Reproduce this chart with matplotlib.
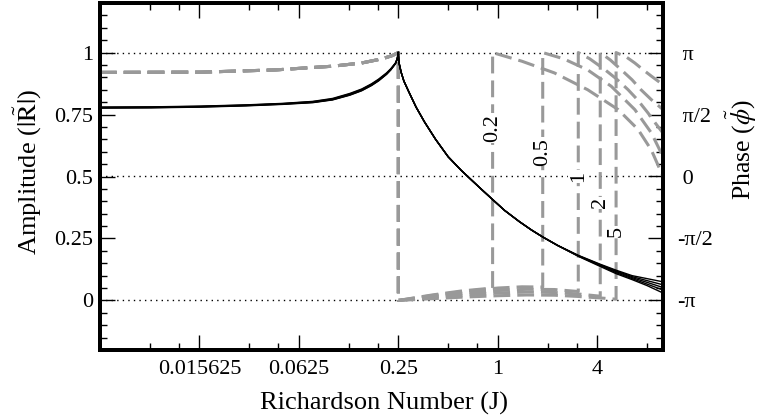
import numpy as np
import matplotlib
matplotlib.use('Agg')
import matplotlib.pyplot as plt
from matplotlib.ticker import FixedLocator, FixedFormatter, MultipleLocator, NullFormatter

plt.rcParams['font.family'] = ['Liberation Serif', 'DejaVu Serif']
plt.rcParams['mathtext.fontset'] = 'stix'

# ---------------- data ----------------
params = ['0.2', '0.5', '1', '2', '5']

# amplitude, J < 0.25 (one array per parameter)
J_amp_left = [0.0039, 0.008, 0.016, 0.03, 0.05, 0.076, 0.1, 0.127, 0.15, 0.172, 0.19, 0.212, 0.225, 0.24, 0.246, 0.25]
amp_left_02 = [0.780, 0.781, 0.784, 0.789, 0.795, 0.803, 0.815, 0.835, 0.853, 0.874, 0.893, 0.918, 0.935, 0.958, 0.975, 1.0]
amp_left_05 = [0.779, 0.780, 0.783, 0.788, 0.794, 0.802, 0.813, 0.833, 0.851, 0.872, 0.891, 0.916, 0.933, 0.957, 0.974, 1.0]
amp_left_1 = [0.778, 0.779, 0.782, 0.787, 0.793, 0.800, 0.811, 0.831, 0.849, 0.870, 0.889, 0.914, 0.932, 0.956, 0.974, 1.0]
amp_left_2 = [0.777, 0.778, 0.781, 0.786, 0.792, 0.799, 0.810, 0.829, 0.847, 0.868, 0.887, 0.913, 0.931, 0.955, 0.973, 1.0]
amp_left_5 = [0.776, 0.777, 0.780, 0.785, 0.791, 0.798, 0.809, 0.828, 0.846, 0.867, 0.886, 0.912, 0.930, 0.955, 0.973, 1.0]

# amplitude, J > 0.25 (common part, then per-parameter tail)
J_amp_right = [0.25, 0.252, 0.26, 0.27, 0.29, 0.32, 0.36, 0.42, 0.5, 0.6, 0.7, 0.8, 0.93, 1.1, 1.35, 1.6, 1.87, 2.3]
amp_right = [1.0, 0.96, 0.92, 0.885, 0.84, 0.78, 0.72, 0.65, 0.58, 0.525, 0.483, 0.447, 0.407, 0.363, 0.318, 0.284, 0.256, 0.222]
J_amp_tail = [3.07, 4.17, 5.2, 6.5, 8.0, 10.0]
amp_tail_02 = [0.182, 0.146, 0.122, 0.100, 0.088, 0.075]
amp_tail_05 = [0.181, 0.144, 0.119, 0.096, 0.080, 0.063]
amp_tail_1 = [0.180, 0.142, 0.116, 0.092, 0.073, 0.052]
amp_tail_2 = [0.179, 0.140, 0.112, 0.088, 0.066, 0.042]
amp_tail_5 = [0.178, 0.137, 0.108, 0.084, 0.060, 0.030]

# phase (in units of pi), J < 0.25 (shared)
J_ph_left = [0.0039, 0.016, 0.045, 0.1, 0.15, 0.2, 0.23, 0.25]
ph_left = [0.84, 0.842, 0.86, 0.89, 0.916, 0.95, 0.976, 1.0]

# phase, lower branch (after J = 0.25) per parameter
J_low_02 = [0.25, 0.4, 0.6, 0.93]
ph_low_02 = [-1.0, -0.956, -0.924, -0.90]
J_low_05 = [0.25, 0.4, 0.6, 1.0, 1.4, 1.87]
ph_low_05 = [-1.0, -0.96, -0.93, -0.90, -0.89, -0.892]
J_low_1 = [0.25, 0.4, 0.6, 1.0, 1.5, 2.2, 3.07]
ph_low_1 = [-1.0, -0.968, -0.944, -0.92, -0.91, -0.912, -0.928]
J_low_2 = [0.25, 0.4, 0.6, 1.0, 1.5, 2.2, 3.07, 4.17]
ph_low_2 = [-1.0, -0.976, -0.958, -0.94, -0.932, -0.936, -0.948, -0.966]
J_low_5 = [0.25, 0.4, 0.6, 1.0, 1.5, 2.2, 3.07, 4.17, 5.2]
ph_low_5 = [-1.0, -0.986, -0.974, -0.962, -0.956, -0.958, -0.968, -0.98, -0.99]

# phase, upper branch (after the jump) per parameter
J_up_02 = [0.93, 1.4, 2.2, 3.5, 5.35, 7.06, 8.5, 10.0]
ph_up_02 = [1.0, 0.93, 0.836, 0.70, 0.54, 0.38, 0.214, 0.0]
J_up_05 = [1.87, 2.5, 3.5, 4.86, 6.75, 8.5, 10.0]
ph_up_05 = [1.0, 0.95, 0.86, 0.728, 0.54, 0.352, 0.16]
J_up_1 = [3.07, 3.6, 4.45, 5.2, 6.15, 7.0, 8.1, 9.0, 10.0]
ph_up_1 = [1.0, 0.95, 0.862, 0.79, 0.70, 0.62, 0.514, 0.43, 0.35]
J_up_2 = [4.17, 4.8, 5.58, 6.5, 7.36, 8.5, 10.0]
ph_up_2 = [1.0, 0.94, 0.862, 0.78, 0.70, 0.62, 0.54]
J_up_5 = [5.2, 6.0, 6.75, 7.6, 8.5, 10.0]
ph_up_5 = [1.0, 0.964, 0.916, 0.86, 0.81, 0.74]

# curve labels: position (J, phase/pi)
label_J = [0.93, 1.87, 3.07, 4.17, 5.2]
label_ph = [0.392, 0.20, 0.0, -0.212, -0.446]

x_major = [2**-8, 2**-6, 2**-4, 2**-2, 1, 4, 16]
x_major_labels = ['', '0.015625', '0.0625', '0.25', '1', '4', '']
y_ticks = [0, 0.25, 0.5, 0.75, 1]
y_tick_labels = ['0', '0.25', '0.5', '0.75', '1']
ph_ticks = [-1, -0.5, 0, 0.5, 1]
ph_tick_labels = ['-π', '-π/2', ' 0', ' π/2', ' π']

# ---------------- figure ----------------
W, H = 760, 419
fig = plt.figure(figsize=(W / 100, H / 100), dpi=100)
ax = fig.add_axes([100 / W, 1 - 350 / H, 563 / W, 347 / H])
ax2 = ax.twinx()

ax.set_xscale('log', base=2)
ax.set_xlim(2**-8, 10)
ax.set_ylim(-0.2, 1.2)
ax2.set_ylim(-1.4 * np.pi, 1.4 * np.pi)

gray = '#999999'
dash = (0, (5.5, 2.3))

amp_lefts = [amp_left_02, amp_left_05, amp_left_1, amp_left_2, amp_left_5]
amp_tails = [amp_tail_02, amp_tail_05, amp_tail_1, amp_tail_2, amp_tail_5]
for al, at in zip(amp_lefts, amp_tails):
    ax.plot(J_amp_left, al, color='black', lw=1.0)
    ax.plot(J_amp_right + J_amp_tail, amp_right + at, color='black', lw=1.0)

lows = [(J_low_02, ph_low_02), (J_low_05, ph_low_05), (J_low_1, ph_low_1), (J_low_2, ph_low_2), (J_low_5, ph_low_5)]
ups = [(J_up_02, ph_up_02), (J_up_05, ph_up_05), (J_up_1, ph_up_1), (J_up_2, ph_up_2), (J_up_5, ph_up_5)]
for (jl, pl), (ju, pu) in zip(lows, ups):
    jj = J_ph_left + jl + ju
    pp = np.array(ph_left + pl + pu) * np.pi
    ax2.plot(jj, pp, color=gray, lw=2.2, linestyle=dash, zorder=3)

for yv in [-np.pi, 0, np.pi]:
    ax2.axhline(yv, color='black', lw=1.0, linestyle=(0, (1, 3)), zorder=1)

for lbl, lj, lp in zip(params, label_J, label_ph):
    ax2.text(lj, lp * np.pi, lbl, rotation=90, ha='center', va='center', fontsize=16,
             zorder=5, bbox=dict(facecolor='white', edgecolor='none', pad=0.5))

# ticks
ax.xaxis.set_major_locator(FixedLocator(x_major))
ax.xaxis.set_major_formatter(FixedFormatter(x_major_labels))
x_minor = [m * v for v in x_major for m in (2, 3)]
ax.xaxis.set_minor_locator(FixedLocator(x_minor))
ax.xaxis.set_minor_formatter(NullFormatter())
ax.set_yticks(y_ticks)
ax.set_yticklabels(y_tick_labels)
ax.yaxis.set_minor_locator(MultipleLocator(0.05))
ax2.set_yticks([p * np.pi for p in ph_ticks])
ax2.set_yticklabels(ph_tick_labels)
ax2.yaxis.set_minor_locator(MultipleLocator(0.1 * np.pi))

ax.tick_params(which='both', direction='in', top=True, right=False, labelsize=16, width=1.0)
ax.tick_params(which='major', length=10.5)
ax.tick_params(which='minor', length=5)
ax.tick_params(axis='x', pad=7)
ax.tick_params(axis='y', pad=5)
ax2.tick_params(which='both', direction='in', labelsize=16, width=1.0)
ax2.tick_params(which='major', length=10.5, pad=10)
ax2.tick_params(which='minor', length=5)
for t in ax2.get_yticklabels():
    t.set_horizontalalignment('left')

for a in (ax, ax2):
    for s in a.spines.values():
        s.set_linewidth(2.8)

ax.set_zorder(ax2.get_zorder() + 1)
ax.patch.set_visible(False)

fig.text(384 / W, 1 - 403 / H, 'Richardson Number (J)', ha='center', va='center', fontsize=19)
fig.text(28 / W, 1 - 172 / H, r'Amplitude ($|\tilde{\mathrm{R}}|$)', ha='center', va='center',
         rotation=90, fontsize=19)
fig.text(741 / W, 1 - 150 / H, r'Phase ($\tilde{\phi}$)', ha='center', va='center',
         rotation=90, fontsize=18.5)

fig.savefig('out.png', dpi=100)
